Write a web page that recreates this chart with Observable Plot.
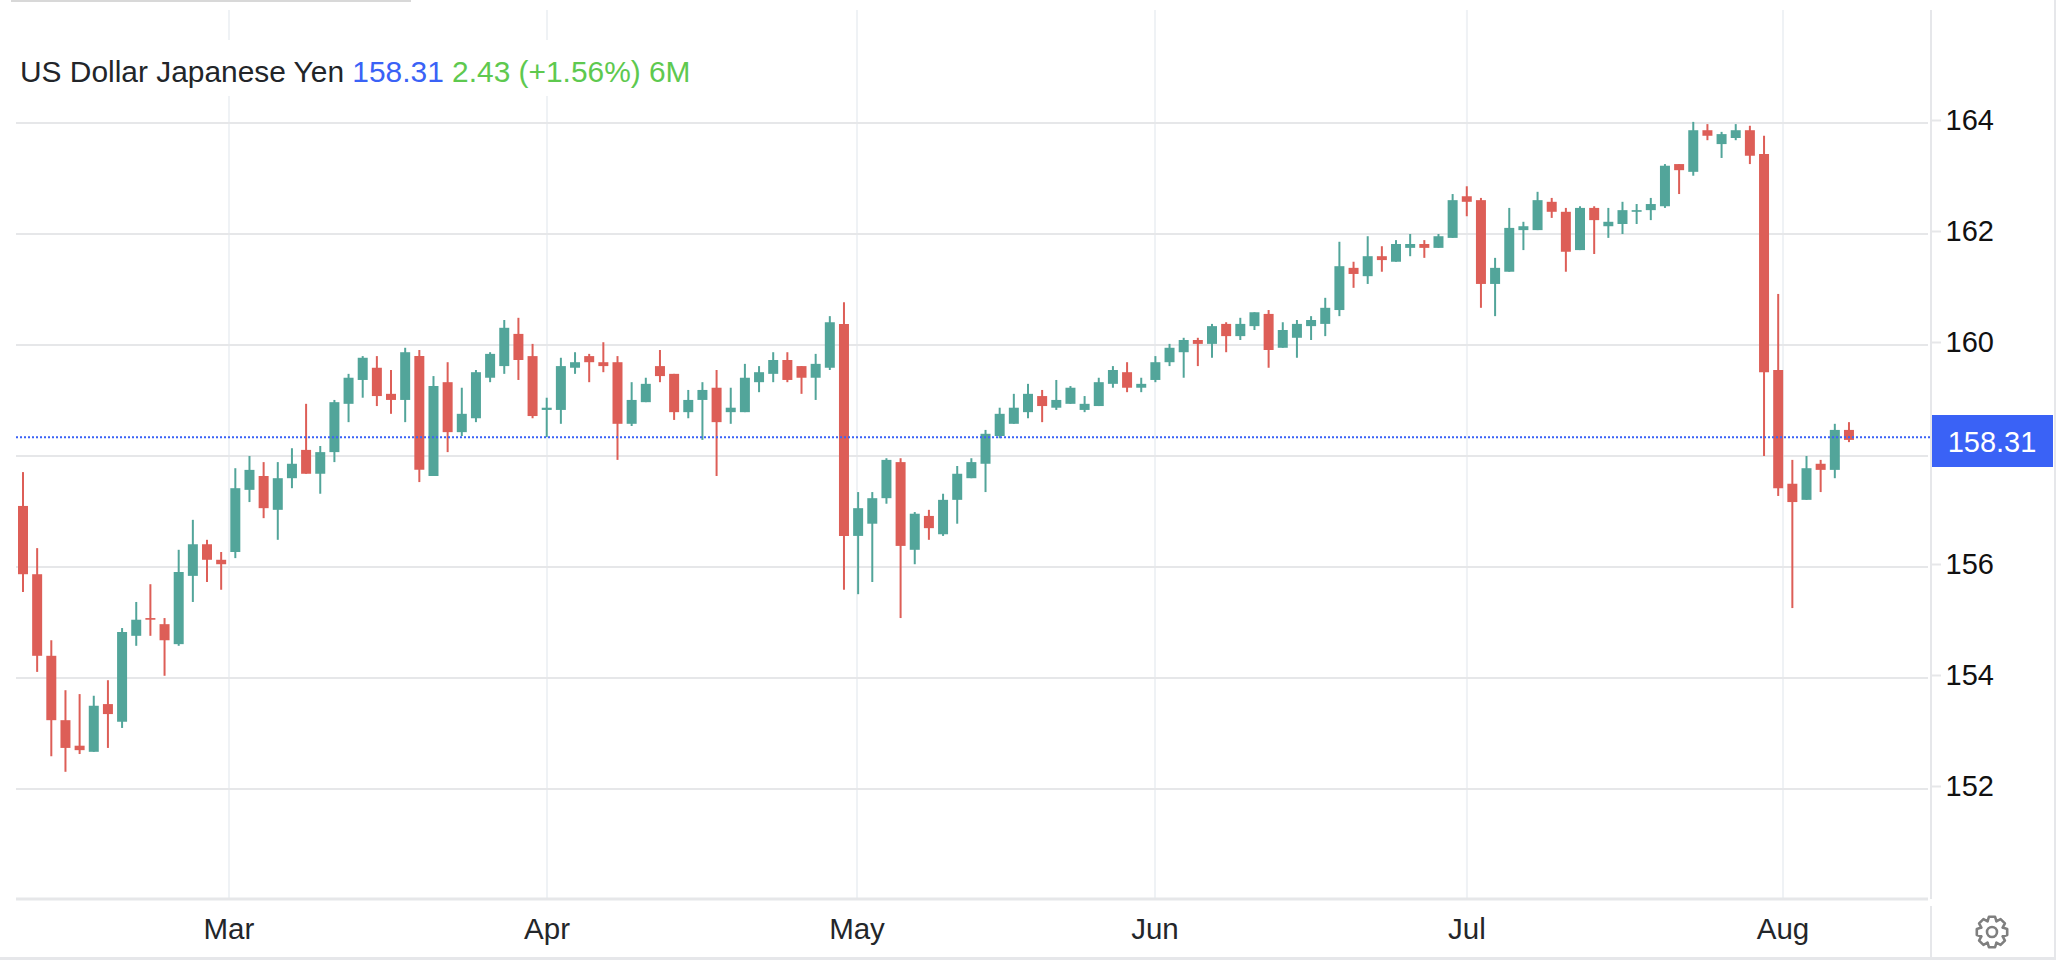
<!DOCTYPE html>
<html>
<head>
<meta charset="utf-8">
<title>US Dollar Japanese Yen</title>
<script src="https://cdn.jsdelivr.net/npm/d3@7"></script>
<script src="https://cdn.jsdelivr.net/npm/@observablehq/plot@0.6"></script>
<style>
  html, body { margin: 0; padding: 0; background: #fff; overflow: hidden; }
  #chart { position: relative; width: 2056px; height: 960px; font-family: "Liberation Sans", sans-serif; }
  #chart svg { display: block; }
  .deco { position: absolute; background: #e6e7ea; }
  #title { position: absolute; left: 16px; top: 40px; width: 690px; height: 56px; background: #fff;
           font-size: 29.9px; line-height: 56px; white-space: pre; color: #222529; }
  #title span.inner { position: absolute; left: 4px; top: 4px; }
  #gear { position: absolute; left: 1974px; top: 914px; }
</style>
</head>
<body>
<div id="chart"></div>
<script>
const opens = [157.10,155.87,154.40,153.24,152.78,152.67,153.53,153.21,154.76,155.08,154.97,154.61,155.84,156.41,156.13,156.27,157.39,157.64,157.03,157.60,158.11,157.68,158.07,158.94,159.37,159.59,159.12,159.01,159.80,157.64,159.33,158.43,158.68,159.41,159.62,160.20,159.80,158.83,158.83,159.59,159.80,159.69,159.69,158.58,158.97,159.62,159.48,158.79,159.01,159.23,158.79,158.79,159.33,159.48,159.73,159.62,159.41,159.59,160.38,156.56,156.78,157.24,157.89,156.31,156.92,156.59,157.21,157.60,157.86,158.36,158.58,158.79,159.08,158.87,158.94,158.83,158.90,159.30,159.51,159.23,159.37,159.69,159.87,160.09,160.02,160.38,160.16,160.34,160.56,159.95,160.13,160.34,160.38,160.63,161.39,161.24,161.60,161.50,161.75,161.82,161.75,161.93,162.68,162.61,161.10,161.32,162.07,162.07,162.58,162.40,161.71,162.47,162.14,162.18,162.40,162.43,162.50,163.26,163.12,163.87,163.62,163.73,163.87,163.44,159.55,157.50,157.21,157.86,157.75,158.47];
const highs = [157.71,156.34,154.68,153.78,153.71,153.68,153.96,154.90,155.37,155.69,155.08,156.31,156.85,156.49,156.27,157.78,158.00,157.89,157.89,158.14,158.94,158.18,159.01,159.48,159.80,159.80,159.55,159.95,159.91,159.44,159.69,159.23,159.55,159.87,160.45,160.49,160.02,159.05,159.77,159.87,159.84,160.05,159.80,159.33,159.41,159.91,159.48,159.19,159.33,159.55,159.23,159.66,159.62,159.87,159.87,159.62,159.84,160.52,160.77,157.35,157.35,157.96,157.96,156.99,157.03,157.32,157.82,157.96,158.47,158.87,159.12,159.30,159.19,159.37,159.26,159.08,159.41,159.62,159.69,159.41,159.80,160.02,160.13,160.13,160.38,160.41,160.49,160.59,160.63,160.41,160.45,160.52,160.85,161.86,161.50,161.96,161.78,161.89,162.00,161.89,162.00,162.72,162.86,162.65,161.57,162.47,162.22,162.76,162.65,162.47,162.50,162.50,162.47,162.58,162.54,162.65,163.26,163.26,164.02,163.98,163.84,163.98,163.95,163.77,160.92,157.93,158.00,157.93,158.58,158.61];
const lows = [155.55,154.11,152.59,152.31,152.63,152.67,152.74,153.10,154.58,154.76,154.04,154.58,155.37,155.73,155.59,156.16,157.17,156.88,156.49,157.42,157.68,157.32,157.89,158.61,159.05,158.90,158.76,158.61,157.53,157.64,158.07,158.36,158.61,159.33,159.48,159.37,158.68,158.34,158.58,159.48,159.33,159.51,157.93,158.54,158.97,159.33,158.65,158.68,158.29,157.64,158.58,158.79,159.15,159.33,159.33,159.12,159.01,159.55,155.59,155.51,155.73,157.14,155.08,156.05,156.49,156.56,156.78,157.60,157.35,158.32,158.58,158.68,158.61,158.83,158.94,158.79,158.90,159.23,159.15,159.15,159.33,159.62,159.41,159.62,159.77,159.87,160.09,160.27,159.59,159.95,159.77,160.09,160.16,160.52,161.03,161.10,161.32,161.50,161.60,161.57,161.75,161.93,162.32,160.67,160.52,161.32,161.71,162.07,162.29,161.32,161.71,161.64,161.93,162.00,162.18,162.25,162.47,162.72,163.05,163.69,163.37,163.69,163.26,158.00,157.28,155.26,157.21,157.35,157.60,158.25];
const closes = [155.87,154.40,153.24,152.74,152.70,153.50,153.35,154.83,155.05,155.05,154.68,155.91,156.41,156.13,156.05,157.42,157.75,157.06,157.60,157.86,157.68,158.07,158.97,159.41,159.77,159.08,159.01,159.87,157.75,159.26,158.43,158.76,159.51,159.84,160.31,159.73,158.72,158.87,159.62,159.69,159.69,159.62,158.58,159.01,159.30,159.44,158.79,159.01,159.19,158.61,158.87,159.41,159.51,159.73,159.37,159.41,159.66,160.41,156.56,157.06,157.24,157.93,156.38,156.96,156.70,157.21,157.68,157.89,158.40,158.76,158.87,159.12,158.90,159.01,159.23,158.94,159.33,159.55,159.23,159.30,159.69,159.95,160.09,160.02,160.34,160.16,160.38,160.59,159.91,160.27,160.38,160.45,160.67,161.42,161.28,161.60,161.53,161.82,161.82,161.75,161.96,162.61,162.58,161.10,161.39,162.11,162.14,162.61,162.40,161.68,162.47,162.25,162.22,162.43,162.43,162.54,163.23,163.15,163.87,163.77,163.80,163.87,163.41,159.51,157.42,157.17,157.78,157.75,158.47,158.29];
const yTicks = [152, 154, 156, 158, 160, 162, 164];
const yLabelTicks = [152, 154, 156, 160, 162, 164];
const monthTicks = [14.55, 37.02, 58.92, 79.97, 102.01, 124.34];
const monthLabels = ["Mar", "Apr", "May", "Jun", "Jul", "Aug"];
const lastPrice = 158.31;
const priceText = "158.31";

const candles = opens.map((o, i) => ({i, o, h: highs[i], l: lows[i], c: closes[i]}));
const up = "#52a59a", down = "#dd5e57", blue = "#3a62f6";
const gridH = "#e6e7e9", gridV = "#eff2f5";
const xMin = -0.459, xMax = 134.76;
const pxPerCandle = 14.155;
const monthName = new Map(monthTicks.map((t, k) => [t, monthLabels[k]]));
const FONT = '"Liberation Sans", sans-serif';

const plot = Plot.plot({
  width: 2056, height: 960,
  marginLeft: 16, marginRight: 126, marginTop: 10, marginBottom: 61,
  style: {fontFamily: FONT, background: "#fff", overflow: "visible"},
  x: {domain: [xMin, xMax], label: null},
  y: {domain: [150.018, 166.036], label: null},
  marks: [
    Plot.ruleX(monthTicks, {stroke: gridV, strokeWidth: 2}),
    Plot.ruleY(yTicks, {x1: xMin, x2: xMax - 2 / pxPerCandle, stroke: gridH, strokeWidth: 2, dy: -0.5}),
    Plot.ruleY([150.018], {x1: xMin, x2: xMax - 2 / pxPerCandle, stroke: gridH, strokeWidth: 3, dy: -0.5}),
    Plot.ruleX(candles, {x: "i", y1: "l", y2: "h", stroke: d => d.c < d.o ? down : up, strokeWidth: 2}),
    Plot.ruleX(candles, {x: "i", y1: "o", y2: "c", stroke: d => d.c < d.o ? down : up, strokeWidth: 10}),
    Plot.ruleY([lastPrice], {x1: xMin, x2: xMax, stroke: blue, strokeWidth: 2, strokeDasharray: "2 2", dy: -2}),
    Plot.axisY(yLabelTicks, {anchor: "right", tickSize: 10, tickPadding: 5, fontSize: 29, stroke: gridH, strokeWidth: 2, fill: "#111", dy: -3, label: null, tickFormat: d => String(d)}),
    Plot.axisX(monthTicks, {anchor: "bottom", tickSize: 0, tickPadding: 19, fontSize: 29.5, fill: "#23262a", label: null, tickFormat: d => monthName.get(d)}),
    Plot.ruleY([lastPrice], {x1: xMax, x2: xMax + 123 / pxPerCandle, stroke: blue, strokeWidth: 52, dy: 1.7}),
    Plot.text([priceText], {x: xMax + 61.5 / pxPerCandle, y: lastPrice, text: d => d, fill: "#fff", fontSize: 29, dy: 3})
  ]
});

const chart = document.getElementById("chart");
chart.appendChild(plot);

function deco(l, t, w, h, color) {
  const d = document.createElement("div");
  d.className = "deco";
  d.style.cssText = `left:${l}px;top:${t}px;width:${w}px;height:${h}px;` + (color ? `background:${color};` : "");
  chart.appendChild(d);
}
deco(11, 0, 400, 2, "#d8d8d8");
deco(1930, 10, 2, 889);
deco(1930, 906, 2, 51);
deco(2054, 0, 2, 960);
deco(0, 957, 2056, 3);

const title = document.createElement("div");
title.id = "title";
title.innerHTML = '<span class="inner">US Dollar Japanese Yen <span style="color:#3a62f6">158.31</span> <span style="color:#5ec94f">2.43 (+1.56%) 6M</span></span>';
chart.appendChild(title);

// settings icon
const teeth = 8, outer = 15.5, inner = 11.5;
let pts = [];
for (let k = 0; k < teeth; k++) {
  const a = (k / teeth) * 2 * Math.PI;
  const w = 0.2;
  [[inner, a - 2.0 * w], [outer, a - w], [outer, a + w], [inner, a + 2.0 * w]].forEach(([r, t]) => {
    pts.push([18 + r * Math.sin(t), 18 - r * Math.cos(t)]);
  });
}
const gear = document.createElementNS("http://www.w3.org/2000/svg", "svg");
gear.setAttribute("id", "gear");
gear.setAttribute("width", 36);
gear.setAttribute("height", 36);
gear.innerHTML = `<path d="M${pts.map(p => p.map(v => v.toFixed(2)).join(",")).join("L")}Z" fill="none" stroke="#7f7f7f" stroke-width="2.6" stroke-linejoin="round"/><circle cx="18" cy="18" r="5" fill="none" stroke="#7f7f7f" stroke-width="2.6"/>`;
chart.appendChild(gear);
</script>
</body>
</html>
